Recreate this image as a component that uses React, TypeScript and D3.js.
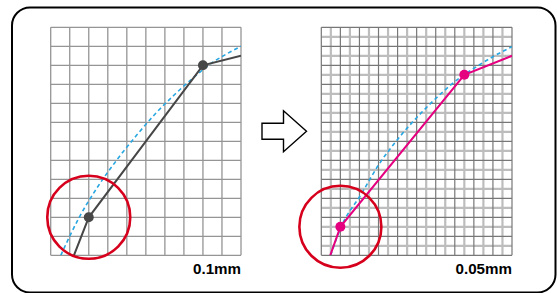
import React, { useEffect, useRef } from "react";
import * as d3 from "d3";

// grid extent, in cells
const cols = 10;
const rows = 12;

// coarse sampling (0.1mm): sampled polyline, clipped to the grid
const coarseLine: [number, number][] = [[1.22, 0], [2, 2], [8, 10], [10, 10.5]];
const coarseMark: [number, number] = [2, 2];
const coarseTop: [number, number] = [8, 10];

// fine sampling (0.05mm)
const fineLine: [number, number][] = [[0.47, 0], [1, 1.5], [7.5, 9.5], [10, 10.5]];
const fineMark: [number, number] = [1, 1.5];
const fineTop: [number, number] = [7.5, 9.5];

// true profile (dashed)
const trueLeft: [number, number][] = [
	[0.53, 0], [1.5, 2], [2.5, 3.65], [3.5, 5.05], [4.5, 6.3], [5.5, 7.45],
	[6.5, 8.45], [7.5, 9.35], [8.5, 10.15], [9.25, 10.6], [10, 11.0],
];
const trueRight: [number, number][] = [
	[0.49, 0], [1.0, 1.4], [2.12, 3.26], [3.0, 4.75], [4.0, 6.1], [5.1, 7.35],
	[6.2, 8.44], [7.2, 9.3], [8.0, 9.84], [9.0, 10.45], [10, 10.98],
];

const labels = ["0.1mm", "0.05mm"];

export default function App() {
	const ref = useRef<SVGSVGElement>(null);

	useEffect(() => {
		const svg = d3.select(ref.current);
		svg.selectAll("*").remove();

		svg.append("rect")
			.attr("x", 12).attr("y", 7.5)
			.attr("width", 543.5).attr("height", 285)
			.attr("rx", 18)
			.attr("fill", "#fff")
			.attr("stroke", "#000")
			.attr("stroke-width", 2);

		const y = d3.scaleLinear().domain([0, rows]).range([255.3, 27.3]);
		const xL = d3.scaleLinear().domain([0, cols]).range([50.7, 241]);
		const xR = d3.scaleLinear().domain([0, cols]).range([321.3, 512]);

		const defs = svg.append("defs");
		[["clipL", xL], ["clipR", xR]].forEach(([id, x]: any) => {
			defs.append("clipPath").attr("id", id)
				.append("rect")
				.attr("x", x(0)).attr("y", y(rows))
				.attr("width", x(cols) - x(0)).attr("height", y(0) - y(rows));
		});

		// left grid
		const gL = svg.append("g");
		gL.selectAll("line.v").data(d3.range(0, cols + 1)).enter().append("line")
			.attr("x1", (d) => xL(d)).attr("x2", (d) => xL(d))
			.attr("y1", y(0)).attr("y2", y(rows))
			.attr("stroke", "#959595").attr("stroke-width", 1.3);
		gL.selectAll("line.h").data(d3.range(0, rows + 1)).enter().append("line")
			.attr("y1", (d) => y(d)).attr("y2", (d) => y(d))
			.attr("x1", xL(0)).attr("x2", xL(cols))
			.attr("stroke", "#959595").attr("stroke-width", 1.3);

		// right grid: half cells light, full cells dark
		const gR = svg.append("g");
		const halfX = d3.range(0.5, cols, 1);
		const halfY = d3.range(0.5, rows, 1);
		gR.selectAll("line.hv").data(halfX).enter().append("line")
			.attr("x1", (d) => xR(d)).attr("x2", (d) => xR(d))
			.attr("y1", y(0)).attr("y2", y(rows))
			.attr("stroke", "#bdbdbd").attr("stroke-width", 2.2);
		gR.selectAll("line.hh").data(halfY).enter().append("line")
			.attr("y1", (d) => y(d)).attr("y2", (d) => y(d))
			.attr("x1", xR(0)).attr("x2", xR(cols))
			.attr("stroke", "#bdbdbd").attr("stroke-width", 2.2);
		gR.selectAll("line.v").data(d3.range(0, cols + 1)).enter().append("line")
			.attr("x1", (d) => xR(d)).attr("x2", (d) => xR(d))
			.attr("y1", y(0)).attr("y2", y(rows))
			.attr("stroke", "#777").attr("stroke-width", 1.2);
		gR.selectAll("line.h").data(d3.range(0, rows + 1)).enter().append("line")
			.attr("y1", (d) => y(d)).attr("y2", (d) => y(d))
			.attr("x1", xR(0)).attr("x2", xR(cols))
			.attr("stroke", "#777").attr("stroke-width", 1.2);

		const curve = (x: any) => d3.line<[number, number]>()
			.x((d) => x(d[0])).y((d) => y(d[1]))
			.curve(d3.curveMonotoneX);
		const poly = (x: any) => d3.line<[number, number]>()
			.x((d) => x(d[0])).y((d) => y(d[1]));

		// dashed true profile
		svg.append("path").attr("d", curve(xL)(trueLeft))
			.attr("clip-path", "url(#clipL)")
			.attr("fill", "none").attr("stroke", "#27a6e1")
			.attr("stroke-width", 1.6).attr("stroke-dasharray", "4,3");
		svg.append("path").attr("d", curve(xR)(trueRight))
			.attr("clip-path", "url(#clipR)")
			.attr("fill", "none").attr("stroke", "#27a6e1")
			.attr("stroke-width", 1.6).attr("stroke-dasharray", "4,3");

		// sampled lines
		svg.append("path").attr("d", poly(xL)(coarseLine))
			.attr("clip-path", "url(#clipL)")
			.attr("fill", "none").attr("stroke", "#474747").attr("stroke-width", 2);
		svg.append("path").attr("d", poly(xR)(fineLine))
			.attr("clip-path", "url(#clipR)")
			.attr("fill", "none").attr("stroke", "#e4007f").attr("stroke-width", 2);

		[coarseMark, coarseTop].forEach((p) => {
			svg.append("circle").attr("cx", xL(p[0])).attr("cy", y(p[1]))
				.attr("r", 5).attr("fill", "#474747");
		});
		[fineMark, fineTop].forEach((p) => {
			svg.append("circle").attr("cx", xR(p[0])).attr("cy", y(p[1]))
				.attr("r", 5).attr("fill", "#e4007f");
		});

		// highlight rings
		svg.append("circle").attr("cx", xL(coarseMark[0])).attr("cy", y(coarseMark[1]))
			.attr("r", 41.5).attr("fill", "none")
			.attr("stroke", "#d7001c").attr("stroke-width", 2.6);
		svg.append("circle").attr("cx", xR(fineMark[0])).attr("cy", y(fineMark[1]))
			.attr("r", 41).attr("fill", "none")
			.attr("stroke", "#d7001c").attr("stroke-width", 2.6);

		// arrow between panels
		const ax = 262, ay = 131.3;
		svg.append("path")
			.attr("d", `M${ax},${ay - 8} H${ax + 21.5} V${ay - 20.5} L${ax + 44.5},${ay} L${ax + 21.5},${ay + 20.5} V${ay + 8} H${ax} Z`)
			.attr("fill", "#fff").attr("stroke", "#000").attr("stroke-width", 1.4);

		// resolution labels
		[[xL, labels[0], 48], [xR, labels[1], 56.5]].forEach(([x, t, w]: any) => {
			svg.append("text")
				.attr("x", x(cols) - w).attr("y", 273.5)
				.attr("textLength", w).attr("lengthAdjust", "spacingAndGlyphs")
				.attr("font-family", "Liberation Sans, Arial, sans-serif")
				.attr("font-weight", "bold").attr("font-size", 14)
				.attr("fill", "#000")
				.text(t);
		});
	}, []);

	return (
		<svg
			ref={ref}
			width={557}
			height={293}
			style={{ position: "absolute", left: 0, top: 0, background: "#fff" }}
		/>
	);
}
